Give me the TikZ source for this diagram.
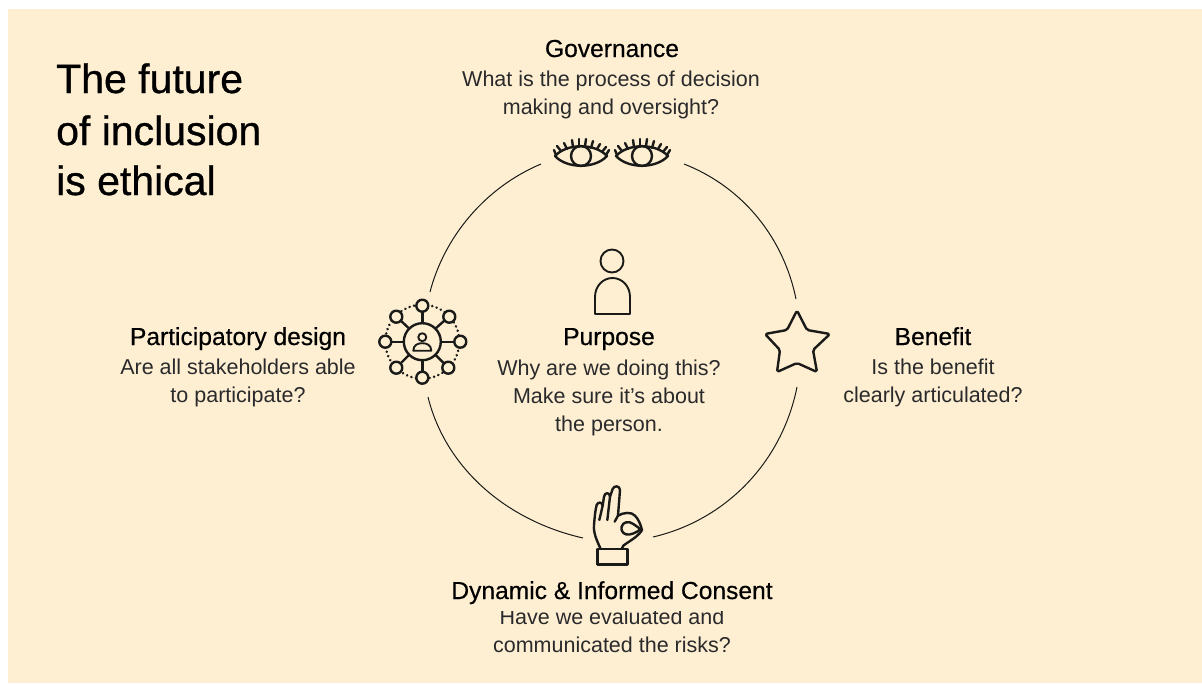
\documentclass[tikz,border=0pt]{standalone}
\usepackage{fontspec}
\setmainfont{Liberation Sans}
\newfontfamily\headfont[FakeBold=0.4]{Liberation Sans}
\newfontfamily\titlefont[FakeBold=0.7]{Liberation Sans}
\definecolor{bgc}{HTML}{FEEFD2}
\definecolor{inkc}{HTML}{1A1A18}
\definecolor{bodyc}{HTML}{2A2A2C}
\tikzset{
  x=1pt,y=-1pt,
  titletext/.style={anchor=base west,font=\titlefont\fontsize{41}{41}\selectfont,text=black,inner sep=0pt},
  headtext/.style={anchor=base,font=\headfont\fontsize{24.6}{24.6}\selectfont,text=black,inner sep=0pt},
  bodytext/.style={anchor=base,font=\fontsize{21.5}{21.5}\selectfont,text=bodyc,inner sep=0pt},
  ringline/.style={draw=inkc,line width=1pt},
  iconline/.style={draw=inkc,line width=2.4pt,line cap=round,line join=round},
  thinicon/.style={draw=inkc,line width=1.9pt,line cap=round,line join=round},
}
\newcommand{\eyeicon}[2]{%
  \begin{scope}[shift={(#1,#2)}]
    \draw[iconline] (-26,0) .. controls (-14,-13) and (14,-13) .. (26,0) .. controls (14,13) and (-14,13) .. (-26,0) -- cycle;
    \draw[iconline] (0,0) circle[radius=10];
    \foreach \ax/\ay/\bx/\by in {-25/-1/-27/-6,-20/-5/-24/-10,-14/-7/-17/-13,-8/-9/-9/-16,-2/-10/-2/-17,4/-10/5/-17,10/-8/12/-15,16/-7/19/-12,21/-4/25/-9,25/-1/28/-6}
      \draw[iconline] (\ax,\ay) -- (\bx,\by);
  \end{scope}}
\begin{document}
\begin{tikzpicture}
\useasboundingbox (0,0) rectangle (1202,683);
\fill[white] (0,0) rectangle (1202,683);
\fill[bgc] (8,9) rectangle (1202,683);
% ring
\coordinate (r1) at (684,164);
\coordinate (r2) at (796,299);
\coordinate (r3) at (797,387);
\coordinate (r4) at (653,537);
\coordinate (r5) at (583,538);
\coordinate (r6) at (428,397);
\coordinate (r7) at (430,292);
\coordinate (r8) at (541,164);
\draw[ringline] (r1) .. controls (745,188) and (784,240) .. (r2);
\draw[ringline] (r3) .. controls (782,462) and (726,520) .. (r4);
\draw[ringline] (r5) .. controls (504,520) and (445,466) .. (r6);
\draw[ringline] (r7) .. controls (444,238) and (484,188) .. (r8);
% title
\node[titletext] (t1) at (56,93) {The future};
\node[titletext] (t2) at (56,145) {of inclusion};
\node[titletext] (t3) at (56,195) {is ethical};
% governance
\node[headtext] (gh) at (612,57) {Governance};
\node[bodytext] (gb1) at (611,86) {What is the process of decision};
\node[bodytext] (gb2) at (611,114) {making and oversight?};
\eyeicon{581}{156}
\eyeicon{642}{156}
% participatory
\node[headtext] (ph) at (238,345) {Participatory design};
\node[bodytext] (pb1) at (238,374) {Are all stakeholders able};
\node[bodytext] (pb2) at (238,402) {to participate?};
% network icon
\begin{scope}[shift={(422.3,341.7)}]
  \draw[draw=inkc,line width=2.8pt,line cap=round,dash pattern=on 0.01pt off 4.6pt] (0,0) circle[radius=37];
  \foreach \a/\b in {0/-36,27/-25,38/0,26/26,0/36,-26/26,-37/0,-26/-25}{
    \coordinate (sat) at (\a,\b);
    \draw[iconline,fill=bgc] (sat) circle[radius=6];
  }
  \draw[iconline] (0,-19) -- (0,-29.5);
  \draw[iconline] (0,19) -- (0,29.5);
  \draw[iconline] (19,0) -- (31.5,0);
  \draw[iconline] (-19,0) -- (-30.5,0);
  \draw[iconline] (13,-13) -- (22,-21);
  \draw[iconline] (-13,-13) -- (-21.5,-21);
  \draw[iconline] (13,13) -- (21.5,21.5);
  \draw[iconline] (-13,13) -- (-21.5,21.5);
  \draw[iconline] (0,0) circle[radius=18.5];
  \draw[thinicon] (0,-4.5) circle[radius=4];
  \draw[thinicon] (-9,9) .. controls (-9,3) and (-4,1.5) .. (0,1.5) .. controls (4,1.5) and (9,3) .. (9,9) -- cycle;
\end{scope}
% star
\draw[iconline,rounded corners=1.8pt] (797,310.5) -- (807,330) -- (830,334) -- (813,350) -- (817,372) -- (797,363) -- (777,372) -- (780,350) -- (765,334) -- (787,330) -- cycle;
% benefit
\node[headtext] (bh) at (933,345) {Benefit};
\node[bodytext] (bb1) at (933,374) {Is the benefit};
\node[bodytext] (bb2) at (933,402) {clearly articulated?};
% person
\draw[thinicon] (612,261) circle[radius=11.5];
\draw[thinicon] (595,314) -- (630,314) -- (630,297) .. controls (630,286) and (622,278) .. (612.5,278) .. controls (603,278) and (595,286) .. (595,297) -- cycle;
% purpose
\node[headtext] (uh) at (609,345) {Purpose};
\node[bodytext] (ub1) at (609,375) {Why are we doing this?};
\node[bodytext] (ub2) at (609,403) {Make sure it’s about};
\node[bodytext] (ub3) at (609,431) {the person.};
% hand
\begin{scope}[shift={(570,475)},x=0.3333pt,y=-0.3333pt]
  \draw[iconline] (82,222) rectangle (172,268);
  \draw[iconline] (92,222) .. controls (80,195) and (70,175) .. (72,150) .. controls (74,125) and (76,105) .. (80,90) .. controls (84,80) and (96,80) .. (98,92) -- (88,135);
  \draw[iconline] (98,92) -- (102,65) .. controls (105,50) and (120,52) .. (120,65) -- (112,135);
  \draw[iconline] (120,65) -- (128,42) .. controls (132,30) and (150,32) .. (150,45) -- (144,122);
  \draw[iconline] (144,122) .. controls (160,112) and (185,110) .. (195,122) .. controls (205,132) and (212,148) .. (216,165) .. controls (205,185) and (175,200) .. (160,212) -- (155,222);
  \draw[iconline] (134,140) -- (144,122);
  \draw[iconline] (155,155) .. controls (158,142) and (175,136) .. (190,147) .. controls (198,152) and (205,158) .. (212,163) .. controls (200,172) and (180,182) .. (168,178) .. controls (158,175) and (152,165) .. (155,155) -- cycle;
\end{scope}
% consent
\node[bodytext] (cb1) at (612,624) {Have we evaluated and};
\node[bodytext] (cb2) at (612,652) {communicated the risks?};
\node[headtext,fill=bgc,text height=18pt,text depth=12pt] (ch) at (612,599) {Dynamic \& Informed Consent};
\end{tikzpicture}
\end{document}
